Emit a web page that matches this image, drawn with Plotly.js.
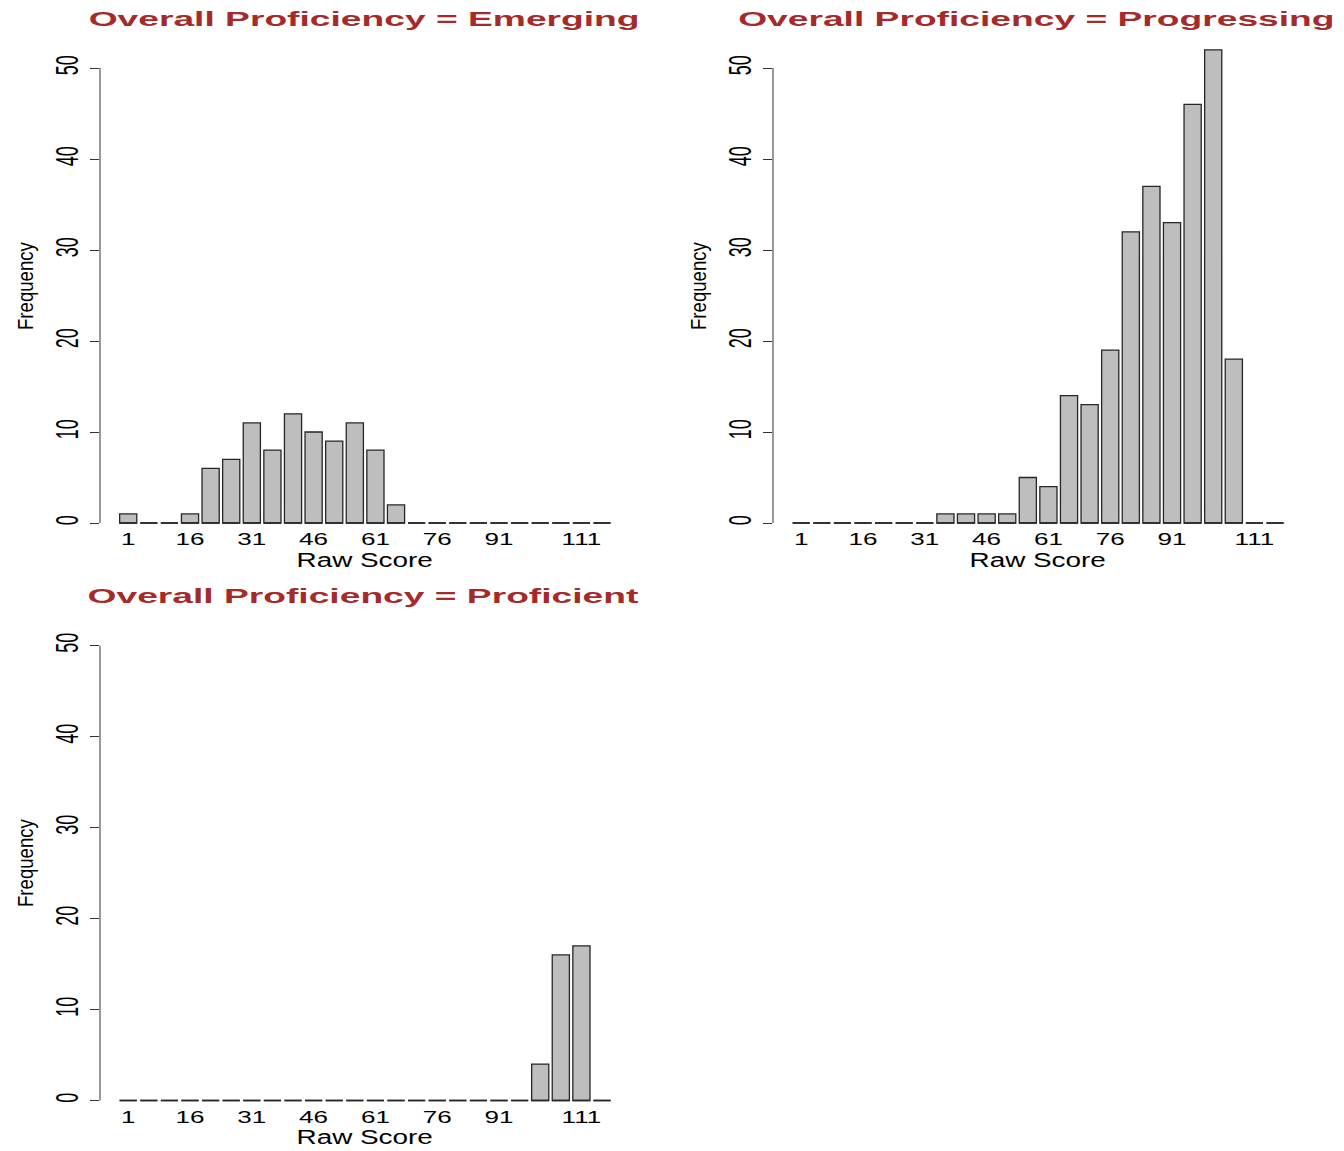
<!DOCTYPE html>
<html>
<head>
<meta charset="utf-8">
<script src="https://cdn.plot.ly/plotly-3.0.1.min.js"></script>
<style>
html,body{margin:0;padding:0;background:#ffffff;}
#chart{width:1344px;height:1151px;}
</style>
</head>
<body>
<div id="chart"></div>
<script>
// ---------------- data ----------------
const scores = [1,6,11,16,21,26,31,36,41,46,51,56,61,66,71,76,81,86,91,96,101,106,111,116];
const emerging    = [1,0,0,1,6,7,11,8,12,10,9,11,8,2,0,0,0,0,0,0,0,0,0,0];
const progressing = [0,0,0,0,0,0,0,1,1,1,1,5,4,14,13,19,32,37,33,46,52,18,0,0];
const proficient  = [0,0,0,0,0,0,0,0,0,0,0,0,0,0,0,0,0,0,0,0,4,16,17,0];
const panelTitles = ["Overall Proficiency = Emerging","Overall Proficiency = Progressing","Overall Proficiency = Proficient"];
const xTickVals = [1,16,31,46,61,76,91,111];
const xTickText = ["1","16","31","46","61","76","91","111"];
const yTickVals = [0,10,20,30,40,50];
const xAxisTitle = "Raw Score";
const yAxisTitle = "Frequency";

// ---------------- layout geometry (pixels) ----------------
const W = 1344, H = 1151;
const BAR_GAP = 0.1667;
const X_RANGE = [-5.85, 122.85];
const Y_RANGE = [-0.3, 55];
const PX_PER_UNIT = 9.1;
const panels = [
  {data: emerging,    x0: 100, zeroY: 523,    titleX: 364,    titleY: 19,  rawY: 560,  freqX: 25,  freqY: 286},
  {data: progressing, x0: 773, zeroY: 523,    titleX: 1036.5, titleY: 19,  rawY: 560,  freqX: 698, freqY: 286},
  {data: proficient,  x0: 100, zeroY: 1100.5, titleX: 363.5,  titleY: 596, rawY: 1137, freqX: 25,  freqY: 863}
];
const PLOT_W = (X_RANGE[1]-X_RANGE[0]) * 4.12;

const FONT = "Liberation Sans, Arial, Helvetica, sans-serif";
const TITLE_COLOR = "#a52a2a";
const BAR_FILL = "#bebebe";
const BAR_LINE = "#262626";
const AXIS_COLOR = "#333333";

const traces = [];
const annotations = [];
const shapes = [];
const layout = {
  width: W, height: H,
  margin: {l:0, r:0, t:0, b:0},
  paper_bgcolor: "#ffffff", plot_bgcolor: "#ffffff",
  showlegend: false,
  bargap: BAR_GAP,
  font: {family: FONT, color: "#000000"},
  annotations: annotations,
  shapes: shapes
};

const binWidth = scores[1] - scores[0];
const hw = binWidth * (1 - BAR_GAP) / 2;

panels.forEach((p, i) => {
  const n = i === 0 ? "" : String(i + 1);
  const xa = "x" + n, ya = "y" + n;
  const yBottom = p.zeroY - Y_RANGE[0] * PX_PER_UNIT;
  const yTop = p.zeroY - Y_RANGE[1] * PX_PER_UNIT;

  traces.push({
    type: "bar", x: scores, y: p.data, xaxis: xa, yaxis: ya,
    marker: {color: BAR_FILL, line: {color: BAR_LINE, width: 1.3}},
    hovertemplate: "%{x}: %{y}<extra></extra>"
  });
  // baseline outline of each bar (R draws zero-height bars as flat lines)
  const bx = [], by = [];
  scores.forEach(s => { bx.push(s - hw, s + hw, null); by.push(0, 0, null); });
  traces.push({
    type: "scatter", mode: "lines", x: bx, y: by, xaxis: xa, yaxis: ya,
    line: {color: BAR_LINE, width: 1.3}, hoverinfo: "skip"
  });

  layout["xaxis" + n] = {
    domain: [p.x0 / W, (p.x0 + PLOT_W) / W],
    range: X_RANGE, anchor: ya,
    tickmode: "array", tickvals: xTickVals, ticktext: xTickText,
    showgrid: false, zeroline: false, showline: false, ticks: "",
    ticklabelstandoff: 2,
    tickfont: {family: FONT, size: 16.3, color: "#000000"},
    fixedrange: true
  };
  layout["yaxis" + n] = {
    domain: [1 - yBottom / H, 1 - yTop / H],
    range: Y_RANGE, anchor: xa,
    tickmode: "array", tickvals: yTickVals, ticktext: yTickVals.map(String),
    ticks: "outside", ticklen: 9, tickwidth: 1, tickcolor: AXIS_COLOR,
    tickangle: -90, ticklabelstandoff: 9,
    tickfont: {family: FONT, size: 18, color: "#000000"},
    showgrid: false, zeroline: false, showline: false,
    fixedrange: true
  };
  shapes.push({
    type: "line", xref: xa + " domain", yref: ya,
    x0: 0, x1: 0, y0: yTickVals[0], y1: yTickVals[yTickVals.length - 1],
    line: {color: AXIS_COLOR, width: 1}
  });

  annotations.push({
    text: "<b>" + panelTitles[i] + "</b>", xref: "paper", yref: "paper",
    x: p.titleX / W, y: 1 - p.titleY / H, xanchor: "center", yanchor: "middle",
    showarrow: false, font: {family: FONT, size: 20, color: TITLE_COLOR}, _k: 1.86
  });
  annotations.push({
    text: xAxisTitle, xref: "paper", yref: "paper",
    x: (p.x0 + 264) / W, y: 1 - p.rawY / H, xanchor: "center", yanchor: "middle",
    showarrow: false, font: {family: FONT, size: 19.5, color: "#000000"}, _k: 1.43
  });
  annotations.push({
    text: yAxisTitle, xref: "paper", yref: "paper",
    x: p.freqX / W, y: 1 - p.freqY / H, xanchor: "center", yanchor: "middle",
    textangle: -90,
    showarrow: false, font: {family: FONT, size: 18.6, color: "#000000"}, _k: 1.17
  });
});

const stretchFactors = annotations.map(a => a._k);
annotations.forEach(a => { delete a._k; });

function toDM(m) { return new DOMMatrix([m.a, m.b, m.c, m.d, m.e, m.f]); }
function stretchX(el, k) {
  const r = el.getBoundingClientRect();
  if (!r.width || !r.height) return;
  const cx = r.left + r.width / 2, cy = r.top + r.height / 2;
  const P = toDM(el.parentNode.getScreenCTM());
  const t = el.transform && el.transform.baseVal.consolidate();
  const L = t ? toDM(t.matrix) : new DOMMatrix();
  const S = new DOMMatrix().translate(cx, cy).scale(k, 1).translate(-cx, -cy);
  const M = P.inverse().multiply(S).multiply(P).multiply(L);
  el.setAttribute("transform", "matrix(" + [M.a, M.b, M.c, M.d, M.e, M.f].join(",") + ")");
}

Plotly.newPlot("chart", traces, layout, {displayModeBar: false, staticPlot: true}).then(gd => {
  gd.querySelectorAll(".xaxislayer-above text").forEach(el => stretchX(el, 1.6));
  gd.querySelectorAll(".yaxislayer-above text").forEach(el => stretchX(el, 1.78));
  stretchFactors.forEach((k, i) => {
    const el = gd.querySelector('g.annotation[data-index="' + i + '"] text.annotation-text');
    if (el) stretchX(el, k);
  });
});
</script>
</body>
</html>
